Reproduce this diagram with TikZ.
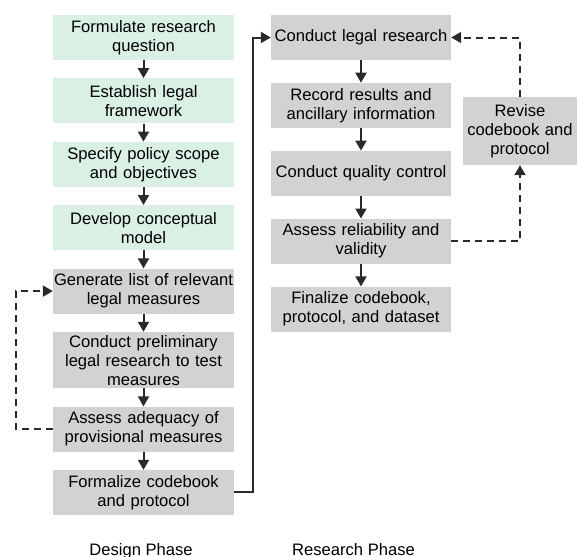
\documentclass[tikz,border=0pt]{standalone}
\usepackage{fontspec}
\setmainfont{Liberation Sans}
\usetikzlibrary{arrows.meta,positioning}
\definecolor{stepgreen}{HTML}{DBF0E5}
\definecolor{stepgray}{HTML}{D2D2D2}
\definecolor{linegray}{HTML}{2A2A2A}

\begin{document}
\begin{tikzpicture}[
          x=1pt, y=1pt,
          font=\fontsize{16.6}{19}\selectfont,
          box/.style={align=center, minimum height=45pt, text width=179pt, inner xsep=1pt, inner ysep=3pt, text=black},
          greenbox/.style={box, fill=stepgreen},
          graybox/.style={box, fill=stepgray},
          arr/.style={-{Triangle[width=11pt,length=10pt]}, line width=2pt, draw=linegray},
          darr/.style={arr, dashed, dash pattern=on 7pt off 5pt}
        ]
        \useasboundingbox (0,0) rectangle (579,-557);
        % design phase
        \node[greenbox] (q) at (143.5,-37.5) {Formulate research\\question};
        \node[greenbox, below=18pt of q] (frame) {Establish legal\\framework};
        \node[greenbox, below=18pt of frame] (scope) {Specify policy scope\\and objectives};
        \node[greenbox, below=18pt of scope] (model) {Develop conceptual\\model};
        \node[graybox, below=18pt of model] (list) {Generate list of relevant\\legal measures};
        \node[graybox, below=18pt of list] (prelim) {Conduct preliminary\\legal research to test\\measures};
        \node[graybox, below=18pt of prelim] (adeq) {Assess adequacy of\\provisional measures};
        \node[graybox, below=18pt of adeq] (formal) {Formalize codebook\\and protocol};
        % research phase
        \node[graybox, text width=178pt] (legal) at (361,-37.5) {Conduct legal research};
        \node[graybox, text width=178pt, below=22.5pt of legal] (record) {Record results and\\ancillary information};
        \node[graybox, text width=178pt, below=22.5pt of record] (qc) {Conduct quality control};
        \node[graybox, text width=178pt, below=22.5pt of qc] (rel) {Assess reliability and\\validity};
        \node[graybox, text width=178pt, below=22.5pt of rel] (final) {Finalize codebook,\\protocol, and dataset};
        \node[graybox, text width=112pt, minimum height=68pt] (revise) at (520,-131) {Revise\\codebook and\\protocol};
        % phase labels
        \node[anchor=base] (dlabel) at (141,-555) {Design Phase};
        \node[anchor=base] (rlabel) at (353.5,-555) {Research Phase};
        \draw[arr] (q) -- (frame);
        \draw[arr] (frame) -- (scope);
        \draw[arr] (scope) -- (model);
        \draw[arr] (model) -- (list);
        \draw[arr] (list) -- (prelim);
        \draw[arr] (prelim) -- (adeq);
        \draw[arr] (adeq) -- (formal);
        \draw[arr] (legal) -- (record);
        \draw[arr] (record) -- (qc);
        \draw[arr] (qc) -- (rel);
        \draw[arr] (rel) -- (final);
        \draw[arr] (formal.east) -- ++(19,0) |- (legal.west);
        \draw[darr] (adeq.west) -- ++(-37,0) |- (list.west);
        \draw[darr] (rel.east) -| (revise.south);
        \draw[darr] (revise.north) |- (legal.east);
      \end{tikzpicture}
\end{document}
